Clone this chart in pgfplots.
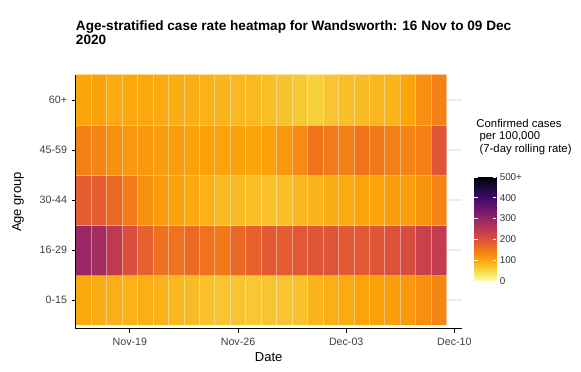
\documentclass[border=0pt]{standalone}
\usepackage{fontspec}
\setmainfont{Liberation Sans}
\usepackage{pgfplots}
\pgfplotsset{compat=1.18}
\usetikzlibrary{calc}

\pgfplotsset{
  colormap={infernor}{
    rgb255(0)=(252,255,164) rgb255(1)=(246,215,70) rgb255(2)=(252,165,10)
    rgb255(3)=(243,120,25) rgb255(4)=(221,81,58) rgb255(5)=(188,55,84)
    rgb255(6)=(147,38,103) rgb255(7)=(106,23,110) rgb255(8)=(66,10,104)
    rgb255(9)=(22,11,57) rgb255(10)=(0,0,4)}
}

\begin{document}
\begin{tikzpicture}
\begin{axis}[
  name=ax,
  scale only axis,
  width=289.5pt, height=190.5pt,
  xmin=-0.5, xmax=24.47,
  ymin=-0.58, ymax=4.5,
  axis x line*=bottom, axis y line*=left,
  axis line style={black, line width=0.7pt},
  xtick={3,10,17,24},
  xticklabels={Nov-19,Nov-26,Dec-03,Dec-10},
  ytick={0,1,2,3,4},
  yticklabels={0-15,16-29,30-44,45-59,60+},
  minor xtick={-0.5,0.5,...,23.5},
  minor ytick={0.5,1.5,2.5,3.5},
  minor tick length=0pt,
  minor grid style={white, opacity=0.4, line width=0.6pt},
  xminorgrids, yminorgrids,
  tick align=outside,
  major tick length=3pt,
  major tick style={black, line width=0.6pt},
  ticklabel style={font=\fontsize{8}{9}\selectfont, text=black!75},
  /pgf/number format/assume math mode=true,
  xlabel={Date},
  ylabel={Age group},
  label style={font=\fontsize{9.75}{11}\selectfont},
  xlabel style={yshift=1pt},
  ylabel style={yshift=5pt},
  axis on top,
  colormap name=infernor,
  point meta min=0, point meta max=500,
  colorbar,
  colorbar/width=16.5pt,
  colorbar style={
    at={(parent axis.east)}, anchor=west,
    xshift=1pt, yshift=-20.25pt,
    scale only axis,
    xmin=0, xmax=1, enlargelimits=false,
    height=78pt,
    ytick={0,100,200,300,400,500},
    yticklabels={0,100,200,300,400,500+},
    ytick pos=both, yticklabel pos=right,
    tick align=inside,
    major tick length=2.5pt,
    major tick style={white, line width=0.6pt},
    axis line style={draw=none},
    ticklabel style={font=\fontsize{7.4}{8}\selectfont, text=black!80},
    yticklabel style={xshift=-1pt},
  },
]
% light panel grid, only visible right of the tiles
\addplot[gray!15, line width=0.8pt, forget plot] coordinates {(23.5,0) (24.47,0)};
\addplot[gray!15, line width=0.8pt, forget plot] coordinates {(23.5,1) (24.47,1)};
\addplot[gray!15, line width=0.8pt, forget plot] coordinates {(23.5,2) (24.47,2)};
\addplot[gray!15, line width=0.8pt, forget plot] coordinates {(23.5,3) (24.47,3)};
\addplot[gray!15, line width=0.8pt, forget plot] coordinates {(23.5,4) (24.47,4)};

\addplot[matrix plot*, mesh/cols=24, mesh/ordering=x varies, point meta=explicit] coordinates {
% 0-15
(0,0)[96] (1,0)[92] (2,0)[90] (3,0)[88] (4,0)[90] (5,0)[86] (6,0)[82] (7,0)[78] (8,0)[72] (9,0)[68] (10,0)[68] (11,0)[66]
(12,0)[68] (13,0)[68] (14,0)[72] (15,0)[84] (16,0)[90] (17,0)[95] (18,0)[102] (19,0)[103] (20,0)[108] (21,0)[114] (22,0)[124] (23,0)[134]

% 16-29
(0,1)[295] (1,1)[280] (2,1)[245] (3,1)[205] (4,1)[180] (5,1)[160] (6,1)[158] (7,1)[168] (8,1)[158] (9,1)[150] (10,1)[172] (11,1)[178]
(12,1)[188] (13,1)[185] (14,1)[190] (15,1)[195] (16,1)[195] (17,1)[188] (18,1)[190] (19,1)[195] (20,1)[200] (21,1)[210] (22,1)[230] (23,1)[240]

% 30-44
(0,2)[185] (1,2)[183] (2,2)[170] (3,2)[148] (4,2)[122] (5,2)[112] (6,2)[104] (7,2)[97] (8,2)[88] (9,2)[78] (10,2)[78] (11,2)[75]
(12,2)[73] (13,2)[75] (14,2)[82] (15,2)[85] (16,2)[92] (17,2)[94] (18,2)[101] (19,2)[101] (20,2)[108] (21,2)[110] (22,2)[120] (23,2)[135]

% 45-59
(0,3)[140] (1,3)[135] (2,3)[125] (3,3)[115] (4,3)[115] (5,3)[110] (6,3)[110] (7,3)[103] (8,3)[103] (9,3)[102] (10,3)[103] (11,3)[100]
(12,3)[105] (13,3)[115] (14,3)[130] (15,3)[155] (16,3)[148] (17,3)[142] (18,3)[155] (19,3)[150] (20,3)[140] (21,3)[135] (22,3)[140] (23,3)[195]

% 60+
(0,4)[100] (1,4)[105] (2,4)[94] (3,4)[96] (4,4)[96] (5,4)[94] (6,4)[92] (7,4)[90] (8,4)[88] (9,4)[85] (10,4)[80] (11,4)[80]
(12,4)[75] (13,4)[70] (14,4)[64] (15,4)[57] (16,4)[67] (17,4)[74] (18,4)[77] (19,4)[82] (20,4)[84] (21,4)[100] (22,4)[125] (23,4)[140]
};
\end{axis}

% plot title
\node[anchor=north west, align=left, inner sep=0pt,
      font=\fontsize{10.2}{10.5}\selectfont\bfseries]
  at ($(ax.north west)+(0pt,41pt)$)
  {Age-stratified case rate heatmap for Wandsworth: 16 Nov to 09 Dec\\2020};

% colorbar title
\node[anchor=north west, align=left, inner sep=0pt,
      font=\fontsize{8.5}{9.4}\selectfont]
  at ($(ax.north east)+(10.9pt,-33pt)$)
  {Confirmed cases\\\ per 100,000\\\ (7-day rolling rate)};

% page size of the reference
\path ($(ax.south west)+(-56.8pt,-32.25pt)$) rectangle ($(ax.north east)+(89.5pt,56.25pt)$);
\end{tikzpicture}
\end{document}
